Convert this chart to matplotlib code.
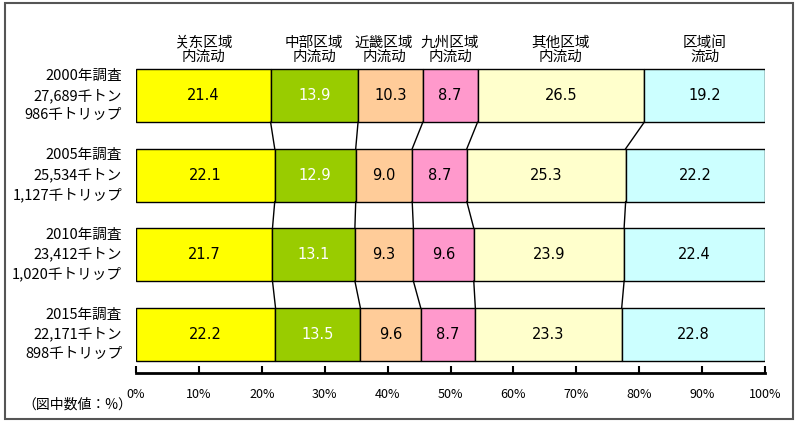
import matplotlib
matplotlib.use("Agg")
import matplotlib.pyplot as plt
from matplotlib.patches import Rectangle

plt.rcParams['font.family'] = ['Noto Sans CJK JP', 'DejaVu Sans']

# data
surveys = ["2000年調査\n27,689千トン\n986千トリップ",
           "2005年調査\n25,534千トン\n1,127千トリップ",
           "2010年調査\n23,412千トン\n1,020千トリップ",
           "2015年調査\n22,171千トン\n898千トリップ"]
regions = ["关东区域\n内流动", "中部区域\n内流动", "近畿区域\n内流动",
           "九州区域\n内流动", "其他区域\n内流动", "区域间\n流动"]
shares = [
    [21.4, 13.9, 10.3, 8.7, 26.5, 19.2],
    [22.1, 12.9, 9.0, 8.7, 25.3, 22.2],
    [21.7, 13.1, 9.3, 9.6, 23.9, 22.4],
    [22.2, 13.5, 9.6, 8.7, 23.3, 22.8],
]
colors = ["#FFFF00", "#99CC00", "#FFCC99", "#FF99CC", "#FFFFCC", "#CCFFFF"]
text_colors = ["black", "white", "black", "black", "black", "black"]
ticks = [0, 10, 20, 30, 40, 50, 60, 70, 80, 90, 100]

W, H = 801, 424
fig = plt.figure(figsize=(W / 100, H / 100), dpi=100)
ax = fig.add_axes([136 / W, 1 - 373 / H, 629 / W, 313 / H])

bh = 0.666
edges = []
for i, row in enumerate(shares):
    tot = sum(row)
    left = 0.0
    e = [0.0]
    for j, v in enumerate(row):
        w = v / tot * 100
        ax.barh(i, w, left=left, height=bh, color=colors[j],
                edgecolor="black", linewidth=1)
        ax.text(left + w / 2, i, f"{v:.1f}", ha="center", va="center",
                fontsize=10.5, color=text_colors[j], family="DejaVu Sans")
        left += w
        e.append(left)
    edges.append(e)

# connector lines between bars
for i in range(len(shares) - 1):
    for j in range(1, len(regions)):
        ax.plot([edges[i][j], edges[i + 1][j]], [i + bh / 2, i + 1 - bh / 2],
                color="black", lw=1)

# headers above first bar
for j, r in enumerate(regions):
    xc = (edges[0][j] + edges[0][j + 1]) / 2
    if j == 2:
        xc -= 1.0
    ax.text(xc, -0.58, r, ha="center", va="center", fontsize=10.5,
            linespacing=1.0)

# row labels
for i, s in enumerate(surveys):
    ax.text(-2.2, i, s, ha="right", va="center", fontsize=10.5,
            linespacing=1.45)

ax.set_xlim(0, 100)
ax.set_ylim(3.49, -0.45)
ax.set_yticks([])
ax.set_xticks(ticks)
ax.set_xticklabels([f"{t}%" for t in ticks], fontsize=9)
ax.tick_params(axis="x", direction="in", length=5, width=1.5, pad=11)
for s in ["top", "right", "left"]:
    ax.spines[s].set_visible(False)
ax.spines["bottom"].set_linewidth(2)

fig.text(22 / W, 1 - 405 / H, "（図中数値：%）", fontsize=10, va="center")

fig.patches.append(Rectangle((5 / W, 1 - 419 / H), 788 / W, 416 / H,
                             transform=fig.transFigure, fill=False,
                             edgecolor="#555555", lw=1.5))

fig.savefig("out.png", dpi=100)
